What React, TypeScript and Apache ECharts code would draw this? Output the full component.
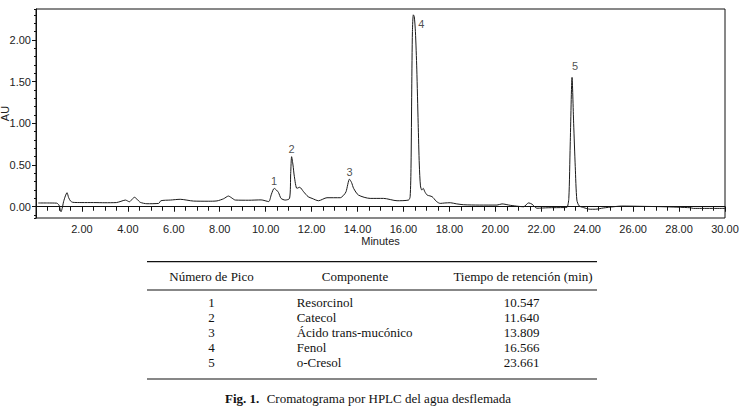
import React, { useEffect, useRef } from 'react';
import * as echarts from 'echarts';

// Chromatogram trace: retention time (min) and absorbance (AU)
const timeMinutes = [
  0.1, 0.5, 0.9, 1.0, 1.05, 1.09, 1.14, 1.2, 1.28, 1.35, 1.42, 1.5, 1.6, 2.0, 2.5, 3.0, 3.5, 3.7, 3.89, 4.07,
  4.2, 4.29, 4.4, 4.54, 4.83, 5.34, 5.44, 5.85, 6.28, 6.86, 7.5, 7.88, 8.17, 8.38, 8.5, 8.68, 9.26, 9.8, 10.13, 10.25,
  10.37, 10.47, 10.56, 10.67, 10.85, 11.04, 11.09, 11.13, 11.19, 11.25, 11.36, 11.48, 11.65, 11.85, 12.02, 12.3, 12.67, 13.25, 13.4, 13.5,
  13.65, 13.74, 13.83, 14.04, 14.55, 15.13, 15.72, 16.22, 16.29, 16.33, 16.36, 16.39, 16.43, 16.47, 16.52, 16.58, 16.64, 16.69, 16.74, 16.8,
  16.86, 16.93, 17.03, 17.15, 17.25, 17.32, 17.45, 17.6, 17.8, 18.04, 18.3, 18.62, 19.3, 20.07, 20.29, 20.65, 21.0, 21.23, 21.45, 21.6,
  21.81, 22.3, 23.0, 23.12, 23.2, 23.26, 23.34, 23.41, 23.48, 23.55, 23.65, 23.84, 24.13, 24.35, 24.7, 25.15, 25.5, 26.5, 27.32, 28.49,
  28.63, 30.0,
];
const absorbanceAU = [
  0.045, 0.045, 0.043, 0.02, -0.03, -0.06, -0.02, 0.06, 0.13, 0.168, 0.11, 0.07, 0.053, 0.05, 0.05, 0.048, 0.05, 0.065, 0.08, 0.06,
  0.095, 0.113, 0.09, 0.053, 0.036, 0.04, 0.072, 0.08, 0.089, 0.068, 0.066, 0.07, 0.096, 0.128, 0.11, 0.08, 0.078, 0.082, 0.062, 0.15,
  0.22, 0.2, 0.17, 0.1, 0.08, 0.1, 0.4, 0.6, 0.5, 0.36, 0.22, 0.233, 0.18, 0.12, 0.1, 0.072, 0.108, 0.108, 0.14, 0.18,
  0.33, 0.29, 0.22, 0.14, 0.1, 0.1, 0.072, 0.08, 0.12, 0.5, 1.4, 2.1, 2.3, 2.28, 2.1, 1.65, 1.0, 0.5, 0.25, 0.2,
  0.22, 0.18, 0.14, 0.13, 0.12, 0.1, 0.06, 0.04, 0.045, 0.048, 0.035, 0.024, 0.02, 0.02, 0.034, 0.017, 0.005, 0.0, 0.046, 0.03,
  -0.018, -0.012, -0.01, -0.008, 0.1, 0.74, 1.55, 1.0, 0.48, 0.08, 0.01, -0.01, -0.03, -0.03, -0.015, 0.0, 0.008, 0.004, 0.0, -0.012,
  -0.02, -0.02,
];

// Peak annotations
const peakLabels = ['1', '2', '3', '4', '5'];
const peakApexTime = [10.37, 11.13, 13.65, 16.43, 23.34];
const peakApexAU = [0.22, 0.6, 0.33, 2.3, 1.55];

// Table
const tableHeaders = ['Número de Pico', 'Componente', 'Tiempo de retención (min)'];
const peakNumbers = ['1', '2', '3', '4', '5'];
const components = ['Resorcinol', 'Catecol', 'Ácido trans-mucónico', 'Fenol', 'o-Cresol'];
const retentionTimes = ['10.547', '11.640', '13.809', '16.566', '23.661'];
const captionBold = 'Fig. 1.';
const captionText = 'Cromatograma por HPLC del agua desflemada';

const SANS = '"Liberation Sans", Arial, sans-serif';
const SERIF = '"Liberation Serif", "Times New Roman", serif';
const INK = '#222';

export default function App() {
  const ref = useRef<HTMLDivElement>(null);

  useEffect(() => {
    const chart = echarts.init(ref.current!, null, { renderer: 'svg' });

    const serifText = (text: string, x: number, y: number, align: string, bold = false) => ({
      type: 'text',
      x,
      y,
      silent: true,
      style: {
        text,
        fill: '#111',
        font: `${bold ? 'bold ' : ''}13px ${SERIF}`,
        textAlign: align,
        align,
        textVerticalAlign: 'middle',
        verticalAlign: 'middle',
      },
    });
    const rule = (y: number) => ({
      type: 'line',
      silent: true,
      shape: { x1: 147, y1: y, x2: 597, y2: y },
      style: { stroke: '#111', lineWidth: 1.2 },
    });

    const colCenters = [211.5, 296.7, 521.7];
    const headerCenters = [211.5, 355, 523];
    const rowY = [302.3, 317.3, 332.3, 347.3, 362.3];

    const graphics: any[] = [rule(261.7), rule(290), rule(379)];
    tableHeaders.forEach((h, i) => graphics.push(serifText(h, headerCenters[i], 276, 'center')));
    peakNumbers.forEach((n, i) => {
      graphics.push(serifText(n, colCenters[0], rowY[i], 'center'));
      graphics.push(serifText(components[i], colCenters[1], rowY[i], 'left'));
      graphics.push(serifText(retentionTimes[i], colCenters[2], rowY[i], 'center'));
    });
    graphics.push(serifText(captionBold, 225, 398, 'left', true));
    graphics.push(serifText(captionText, 266.7, 398, 'left'));

    const yMin = -0.135;
    const yMax = 2.37;

    const labelBase = { show: true, formatter: '{b}', fontSize: 11, color: INK, fontFamily: SANS };

    const option: any = {
      animation: false,
      backgroundColor: '#fff',
      textStyle: { fontFamily: SANS },
      grid: {
        left: 36,
        right: 15,
        top: 9,
        height: 209,
        containLabel: false,
        outerBoundsMode: 'none',
        show: true,
        borderColor: '#111',
        borderWidth: 1,
        backgroundColor: 'transparent',
      },
      xAxis: {
        type: 'value',
        min: 0,
        max: 30,
        interval: 2,
        name: 'Minutes',
        nameLocation: 'middle',
        nameGap: 17,
        nameMoveOverlap: false,
        nameTextStyle: { fontSize: 11, color: INK, fontFamily: SANS },
        axisLine: { show: true, lineStyle: { color: '#111', width: 1 } },
        axisTick: { show: true, length: 5, lineStyle: { color: '#111' } },
        minorTick: { show: true, splitNumber: 4, length: 4, lineStyle: { color: '#111' } },
        splitLine: { show: false },
        minorSplitLine: { show: false },
        axisLabel: {
          fontSize: 11,
          color: INK,
          fontFamily: SANS,
          margin: 5,
          showMinLabel: false,
          formatter: (v: number) => v.toFixed(2),
        },
      },
      yAxis: [
        {
          type: 'value',
          position: 'left',
          min: yMin,
          max: yMax,
          minInterval: 0.5,
          maxInterval: 0.5,
          name: 'AU',
          nameLocation: 'middle',
          nameGap: 26,
          nameMoveOverlap: false,
          nameTextStyle: { fontSize: 11, color: INK, fontFamily: SANS },
          axisLine: { show: true, lineStyle: { color: '#111', width: 1 } },
          axisTick: { show: true, length: 4, lineStyle: { color: '#111' } },
          splitLine: { show: false },
          axisLabel: {
            fontSize: 11,
            color: INK,
            fontFamily: SANS,
            margin: 5,
            showMinLabel: false,
            showMaxLabel: false,
            formatter: (v: number) => v.toFixed(2),
          },
        },
        {
          type: 'value',
          position: 'left',
          min: yMin,
          max: yMax,
          minInterval: 0.1,
          maxInterval: 0.1,
          axisLine: { show: false },
          axisTick: { show: true, length: 2, lineStyle: { color: '#111' } },
          axisLabel: { show: false },
          splitLine: { show: false },
        },
      ],
      series: [
        {
          type: 'line',
          data: timeMinutes.map((t, i) => [t, absorbanceAU[i]]),
          showSymbol: false,
          symbol: 'none',
          smooth: 0.25,
          lineStyle: { color: '#1a1a1a', width: 1 },
          itemStyle: { color: '#1a1a1a' },
          silent: true,
          z: 3,
        },
        {
          type: 'scatter',
          symbolSize: 0,
          silent: true,
          itemStyle: { color: INK },
          data: peakApexTime.map((t, i) => {
            const item: any = { name: peakLabels[i], value: [t, peakApexAU[i]] };
            if (i === 3) {
              item.label = { ...labelBase, position: 'right', distance: 5, offset: [0, 9] };
            } else if (i === 4) {
              item.label = { ...labelBase, position: 'top', distance: 6, offset: [3, 0] };
            } else {
              item.label = { ...labelBase, position: 'top', distance: 2 };
            }
            return item;
          }),
          label: labelBase,
          z: 4,
        },
      ],
      graphic: graphics,
    };

    chart.setOption(option);
    return () => chart.dispose();
  }, []);

  return (
    <div
      ref={ref}
      style={{ position: 'absolute', left: 0, top: 0, width: 740, height: 409, background: '#fff' }}
    />
  );
}
